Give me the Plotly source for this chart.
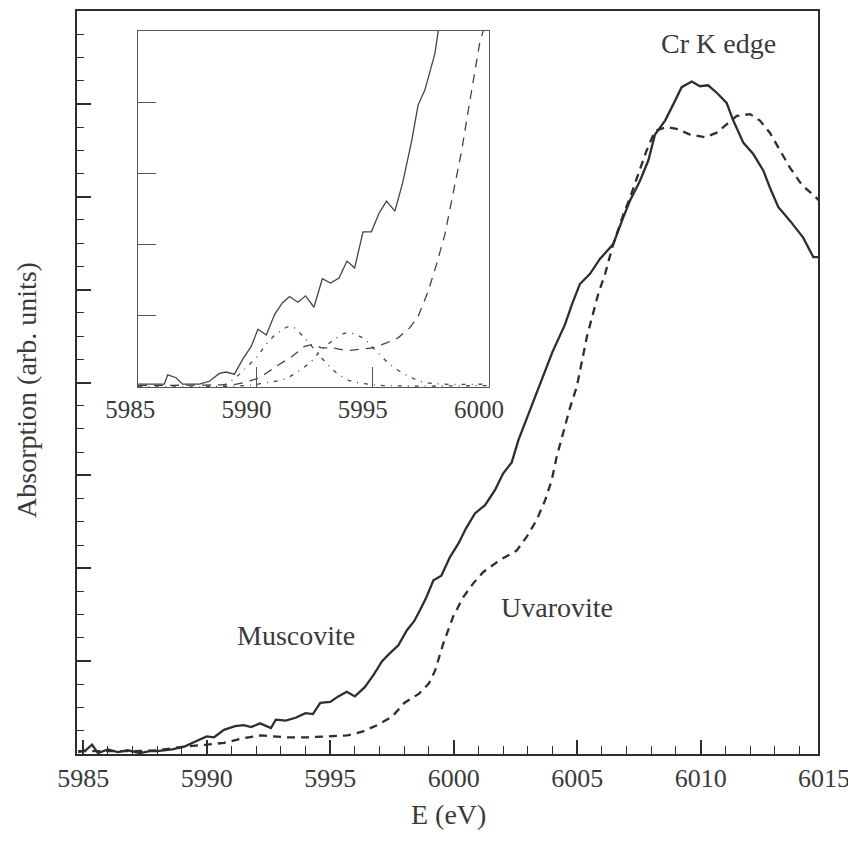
import plotly.graph_objects as go

# ---------------- main panel data (E in eV, absorption in arb. units) ----------------
mus_E = [5984.8, 5985.1, 5985.36, 5985.6, 5986.0, 5986.4, 5986.8, 5987.3, 5987.7, 5988.0,
         5988.6, 5989.1, 5989.5, 5990.0, 5990.3, 5990.7, 5991.15, 5991.5, 5991.8, 5992.16,
         5992.6, 5992.8, 5993.2, 5993.6, 5994.0, 5994.3, 5994.6, 5995.0, 5995.33, 5995.67,
         5996.0, 5996.4, 5996.75, 5997.1, 5997.4, 5997.76, 5998.1, 5998.4, 5998.64, 5998.9,
         5999.18, 5999.5, 5999.85, 6000.2, 6000.5, 6000.86, 6001.27, 6001.67, 6002.0, 6002.35,
         6002.62, 6003.09, 6003.56, 6004.0, 6004.5, 6004.8, 6005.11, 6005.52, 6005.92, 6006.46,
         6006.87, 6007.14, 6007.54, 6007.88, 6008.15, 6008.56, 6008.9, 6009.23, 6009.64, 6009.97,
         6010.3, 6010.65, 6011.05, 6011.32, 6011.73, 6012.13, 6012.54, 6012.8, 6013.14, 6013.62,
         6014.15, 6014.56, 6014.8]
mus_A = [0.02, 0.04, 0.10, 0.01, 0.05, 0.02, 0.04, 0.01, 0.03, 0.03,
         0.05, 0.08, 0.13, 0.19, 0.18, 0.26, 0.30, 0.31, 0.29, 0.33,
         0.28, 0.37, 0.36, 0.39, 0.44, 0.43, 0.55, 0.56, 0.62, 0.67,
         0.62, 0.72, 0.85, 1.00, 1.08, 1.17, 1.33, 1.43, 1.55, 1.69,
         1.87, 1.92, 2.12, 2.27, 2.43, 2.59, 2.68, 2.84, 3.02, 3.14,
         3.38, 3.70, 4.02, 4.33, 4.62, 4.85, 5.06, 5.17, 5.33, 5.49,
         5.78, 5.96, 6.17, 6.39, 6.67, 6.82, 7.00, 7.18, 7.24, 7.19,
         7.20, 7.12, 7.01, 6.82, 6.58, 6.46, 6.28, 6.10, 5.89, 5.74,
         5.56, 5.35, 5.35]

uva_E = [5984.8, 5986.0, 5987.0, 5988.0, 5989.1, 5990.0, 5990.7, 5991.5, 5992.2, 5992.7,
         5993.25, 5994.1, 5994.9, 5995.7, 5996.3, 5996.9, 5997.5, 5998.0, 5998.6, 5999.0,
         5999.25, 5999.58, 5999.98, 6000.39, 6000.8, 6001.2, 6001.88, 6002.55, 6002.96, 6003.36,
         6003.7, 6003.97, 6004.17, 6004.44, 6004.71, 6004.98, 6005.4, 6005.85, 6006.13, 6006.46,
         6006.87, 6007.14, 6007.47, 6007.8, 6008.15, 6008.62, 6009.03, 6009.57, 6010.18, 6010.65,
         6011.05, 6011.46, 6012.0, 6012.4, 6012.8, 6013.2, 6013.6, 6014.09, 6014.56, 6014.8]
uva_A = [0.03, 0.03, 0.03, 0.04, 0.08, 0.10, 0.12, 0.17, 0.20, 0.19,
         0.18, 0.18, 0.19, 0.20, 0.24, 0.31, 0.40, 0.55, 0.65, 0.76,
         0.90, 1.19, 1.48, 1.69, 1.84, 1.96, 2.09, 2.19, 2.34, 2.52,
         2.73, 2.95, 3.20, 3.48, 3.73, 3.95, 4.50, 4.95, 5.17, 5.49,
         5.81, 5.99, 6.24, 6.49, 6.71, 6.75, 6.73, 6.67, 6.64, 6.69,
         6.78, 6.87, 6.89, 6.82, 6.69, 6.51, 6.32, 6.13, 6.01, 5.96]

# ---------------- inset data (pre-edge region) ----------------
in_mus_E = [5984.9, 5986.03, 5986.18, 5986.54, 5986.82, 5987.54, 5987.97, 5988.4, 5988.69, 5989.05,
            5989.41, 5989.77, 5990.06, 5990.42, 5990.78, 5991.11, 5991.42, 5991.78, 5992.11, 5992.47,
            5992.83, 5993.18, 5993.55, 5993.89, 5994.22, 5994.58, 5994.94, 5995.27, 5995.59, 5995.95,
            5996.28, 5996.67, 5996.95, 5997.24, 5997.67, 5997.84, 5998.0]
in_mus_A = [0.04, 0.04, 0.17, 0.13, 0.04, 0.04, 0.08, 0.19, 0.21, 0.18,
            0.39, 0.57, 0.81, 0.73, 1.02, 1.18, 1.27, 1.19, 1.28, 1.12,
            1.52, 1.46, 1.53, 1.77, 1.67, 2.18, 2.18, 2.44, 2.61, 2.47,
            2.86, 3.45, 3.96, 4.17, 4.68, 5.00, 5.40]

in_uva_E = [5984.9, 5987.0, 5989.0, 5989.6, 5990.13, 5990.99, 5991.49, 5992.07, 5992.43, 5992.79,
            5993.29, 5993.87, 5994.44, 5995.01, 5995.59, 5996.09, 5996.59, 5996.95, 5997.38, 5997.74,
            5998.1, 5998.46, 5998.82, 5999.1, 5999.4, 5999.61, 5999.75, 5999.9]
in_uva_A = [0.02, 0.02, 0.03, 0.07, 0.13, 0.32, 0.42, 0.57, 0.60, 0.55,
            0.55, 0.51, 0.53, 0.55, 0.62, 0.69, 0.83, 0.99, 1.34, 1.72,
            2.14, 2.70, 3.31, 3.87, 4.47, 4.85, 5.00, 5.30]

peak1_E = [5984.9, 5988.5, 5989.05, 5989.48, 5990.01, 5990.44, 5990.96, 5991.49, 5992.03, 5992.43,
           5992.93, 5993.43, 5994.0, 5994.58, 5995.5, 5999.9]
peak1_A = [0.0, 0.02, 0.12, 0.25, 0.42, 0.61, 0.77, 0.85, 0.70, 0.55,
           0.36, 0.20, 0.09, 0.05, 0.02, 0.02]

peak2_E = [5984.9, 5989.5, 5990.63, 5991.2, 5991.71, 5992.36, 5992.79, 5993.36, 5993.87, 5994.51,
           5995.01, 5995.59, 5996.16, 5996.67, 5997.17, 5998.0, 5999.9]
peak2_A = [0.0, 0.02, 0.07, 0.11, 0.20, 0.36, 0.52, 0.67, 0.76, 0.70,
           0.55, 0.36, 0.22, 0.13, 0.07, 0.04, 0.04]

main_xticks = [5985, 5990, 5995, 6000, 6005, 6010]
main_last_tick = 6015
inset_xticks = [5985, 5990, 5995, 6000]

FONT = '"Liberation Serif", "Times New Roman", "DejaVu Serif", serif'
INK = "#2e2e2e"
TXT = "#3a3a3a"

# plot-area geometry (figure pixels; page adds 8 px body margin)
ML, MR, MT, MB = 69, 46, 1, 101
PW = 856 - ML - MR
X0, X1 = 5984.75, 6014.75

fig = go.Figure()

fig.add_trace(go.Scatter(x=mus_E, y=mus_A, mode="lines", name="Muscovite",
                         line=dict(color=INK, width=2.3), xaxis="x", yaxis="y"))
fig.add_trace(go.Scatter(x=uva_E, y=uva_A, mode="lines", name="Uvarovite",
                         line=dict(color=INK, width=2.3, dash="8px,6px"), xaxis="x", yaxis="y"))

fig.add_trace(go.Scatter(x=in_mus_E, y=in_mus_A, mode="lines",
                         line=dict(color="#444", width=1.3), xaxis="x2", yaxis="y2"))
fig.add_trace(go.Scatter(x=in_uva_E, y=in_uva_A, mode="lines",
                         line=dict(color="#444", width=1.3, dash="9px,7px"), xaxis="x2", yaxis="y2"))
fig.add_trace(go.Scatter(x=peak1_E, y=peak1_A, mode="lines", line_shape="spline",
                         line=dict(color="#444", width=1.3, dash="4px,6px,1px,6px"), xaxis="x2", yaxis="y2"))
fig.add_trace(go.Scatter(x=peak2_E, y=peak2_A, mode="lines", line_shape="spline",
                         line=dict(color="#444", width=1.3, dash="4px,6px,1px,6px"), xaxis="x2", yaxis="y2"))

fig.update_layout(
    width=856, height=847,
    margin=dict(l=ML, r=MR, t=MT, b=MB),
    paper_bgcolor="white", plot_bgcolor="white",
    showlegend=False,
    font=dict(family=FONT, color=TXT, size=26),
    xaxis=dict(
        domain=[0, 1], range=[X0, X1],
        tickmode="array", tickvals=main_xticks, ticktext=[str(v) for v in main_xticks],
        ticks="inside", ticklen=14, tickwidth=1.5, tickcolor=INK,
        minor=dict(tick0=5985, dtick=1, ticks="inside", ticklen=8, tickwidth=1.2, tickcolor=INK),
        showline=True, mirror=True, linewidth=2, linecolor=INK,
        showgrid=False, zeroline=False,
        tickfont=dict(family=FONT, size=26, color=TXT),
    ),
    yaxis=dict(
        domain=[0, 1], range=[0, 8],
        tickmode="array", tickvals=[1, 2, 3, 4, 5, 6, 7], showticklabels=False,
        ticks="inside", ticklen=14, tickwidth=1.5, tickcolor=INK,
        minor=dict(tick0=0, dtick=0.25, ticks="inside", ticklen=7, tickwidth=1.2, tickcolor=INK),
        showline=True, mirror=True, linewidth=2, linecolor=INK,
        showgrid=False, zeroline=False,
    ),
    xaxis2=dict(
        domain=[0.0823, 0.556], range=[5984.9, 6000.0], anchor="y2",
        tickmode="array", tickvals=inset_xticks, ticktext=[str(v) for v in inset_xticks],
        ticks="", ticklabelshift=-10,
        minor=dict(tickmode="array", tickvals=[5990, 5995], ticks="inside", ticklen=20,
                   tickwidth=1.1, tickcolor="#555"),
        showline=True, mirror=True, linewidth=1.4, linecolor="#555",
        showgrid=False, zeroline=False,
        tickfont=dict(family=FONT, size=25, color=TXT),
    ),
    yaxis2=dict(
        domain=[0.494, 0.973], range=[0, 5], anchor="x2",
        tickmode="array", tickvals=[1, 2, 3, 4], showticklabels=False,
        ticks="inside", ticklen=18, tickwidth=1.1, tickcolor="#555",
        showline=True, mirror=True, linewidth=1.4, linecolor="#555",
        showgrid=False, zeroline=False,
    ),
    annotations=[
        dict(text=str(main_last_tick), x=(main_last_tick - X0) / (X1 - X0), xref="paper",
             y=0, yref="paper", yanchor="middle", xanchor="center", yshift=-24,
             showarrow=False, font=dict(family=FONT, size=26, color=TXT)),
        dict(text="E (eV)", x=(5999.8 - X0) / (X1 - X0), xref="paper", y=0, yref="paper",
             yanchor="middle", xanchor="center", yshift=-60, showarrow=False,
             font=dict(family=FONT, size=28, color=TXT)),
        dict(text="Absorption (arb. units)", x=(19 - ML) / PW, xref="paper", y=0.49, yref="paper",
             xanchor="center", yanchor="middle", textangle=-90, showarrow=False,
             font=dict(family=FONT, size=28, color=TXT)),
        dict(text="Cr K edge", x=6010.74, xref="x", y=7.65, yref="y", yanchor="middle",
             xanchor="center", showarrow=False, font=dict(family=FONT, size=28, color=TXT)),
        dict(text="Muscovite", x=5993.6, xref="x", y=1.28, yref="y", yanchor="middle",
             xanchor="center", showarrow=False, font=dict(family=FONT, size=28, color=TXT)),
        dict(text="Uvarovite", x=6004.2, xref="x", y=1.58, yref="y", yanchor="middle",
             xanchor="center", showarrow=False, font=dict(family=FONT, size=28, color=TXT)),
    ],
)

fig.write_html("out.html")
